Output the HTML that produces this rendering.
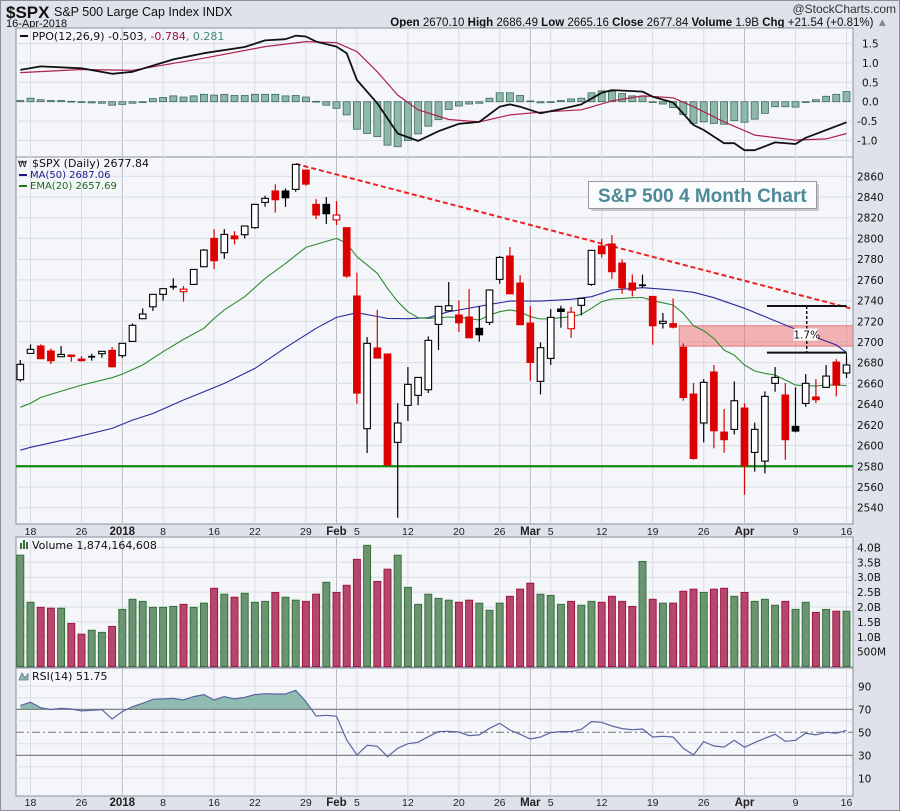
<!DOCTYPE html>
<html><head><meta charset="utf-8">
<style>
html,body{margin:0;padding:0;background:#dfe2ea;}
svg{display:block;font-family:"DejaVu Sans","Liberation Sans",sans-serif;}
.ax{font-size:10.5px;fill:#111;}
.lbl{font-size:11px;fill:#111;}
</style></head>
<body>
<svg id="c" width="900" height="811" viewBox="0 0 900 811" xmlns="http://www.w3.org/2000/svg">
<defs>
<clipPath id="cpPrice"><rect x="16" y="157" width="837" height="367"/></clipPath>
<clipPath id="cpPPO"><rect x="16" y="28" width="837" height="129"/></clipPath>
<clipPath id="cpRSI"><rect x="16" y="668" width="837" height="128"/></clipPath>
<clipPath id="cpAbove70"><rect x="16" y="668" width="837" height="41.3"/></clipPath>
</defs>
<rect x="0" y="0" width="900" height="811" fill="#dfe2ea"/>
<rect x="0.5" y="0.5" width="899" height="810" fill="none" stroke="#8a8f9c"/>
<text x="6" y="18" font-family="Liberation Sans,sans-serif" font-size="17" font-weight="bold" fill="#111">$SPX</text>
<text x="54" y="16" font-family="Liberation Sans,sans-serif" font-size="12.5" fill="#111">S&amp;P 500 Large Cap Index  INDX</text>
<text x="6" y="27" font-family="Liberation Sans,sans-serif" font-size="11" fill="#111">16-Apr-2018</text>
<text x="896" y="13" text-anchor="end" font-family="Liberation Sans,sans-serif" font-size="12" fill="#333">@StockCharts.com</text>
<text x="888" y="26" text-anchor="end" font-family="Liberation Sans,sans-serif" font-size="11.5" fill="#111"><tspan font-weight="bold">Open</tspan> 2670.10 <tspan font-weight="bold">High</tspan> 2686.49 <tspan font-weight="bold">Low</tspan> 2665.16 <tspan font-weight="bold">Close</tspan> 2677.84 <tspan font-weight="bold">Volume</tspan> 1.9B <tspan font-weight="bold">Chg</tspan> +21.54 (+0.81%) <tspan fill="#888">▲</tspan></text>

<rect x="16" y="28" width="837" height="129" fill="#f4f6fa" stroke="#8a8f9c"/>
<rect x="16" y="157" width="837" height="367" fill="#f4f6fa" stroke="#8a8f9c"/>
<rect x="16" y="537" width="837" height="130" fill="#f4f6fa" stroke="#8a8f9c"/>
<rect x="16" y="668" width="837" height="128" fill="#f4f6fa" stroke="#8a8f9c"/>
<g id="grid"></g>
<g id="ppo" clip-path="url(#cpPPO)"></g>
<g id="price" clip-path="url(#cpPrice)"></g>
<g id="vol"></g>
<g id="rsi" clip-path="url(#cpRSI)"></g>
<g id="axes"></g>

<text x="32" y="40" class="lbl"><tspan fill="#111">PPO(12,26,9) -0.503</tspan><tspan fill="#a0103c">, -0.784</tspan><tspan fill="#3d8a78">, 0.281</tspan></text>
<rect x="20" y="35" width="8" height="2" fill="#111"/>

<text x="32" y="167" class="lbl">$SPX (Daily) 2677.84</text>
<text x="18" y="167" font-size="9" fill="#111">₩</text>
<rect x="19" y="174" width="8" height="2" fill="#1a1a8c"/>
<text x="30" y="178" font-size="10" fill="#1a1a8c">MA(50) 2687.06</text>
<rect x="19" y="185" width="8" height="2" fill="#1a7a1a"/>
<text x="30" y="189" font-size="10" fill="#1a6a1a">EMA(20) 2657.69</text>

<g>
<rect x="591" y="184" width="228" height="27" fill="#aaa" opacity="0.6"/>
<rect x="588.5" y="181.5" width="228" height="27" fill="#fafbfd" stroke="#9a9a9a"/>
<text x="598" y="202" font-family="Liberation Sans,sans-serif" font-size="19" font-weight="bold" fill="#4d8a99">S&amp;P 500 4 Month Chart</text>
</g>

<text x="32" y="549" class="lbl">Volume 1,874,164,608</text>
<g><rect x="20" y="543" width="2" height="6" fill="#3a6b3a"/><rect x="23" y="540" width="2" height="9" fill="#3a6b3a"/><rect x="26" y="542" width="2" height="7" fill="#3a6b3a"/></g>
<text x="32" y="680" class="lbl">RSI(14) 51.75</text>
<path d="M19 680 L22 673 L25 678 L28 674 L28 680 Z" fill="#8fbcb0" stroke="#55708a" stroke-width="0.8"/>
</svg>
<script>
// ===== data =====
const opens=[2663.6,2689,2696.1,2691.3,2685.8,2687.4,2683.5,2685.8,2688.7,2691.9,
2686.8,2700.6,2722.5,2734,2746,2753.4,2748.6,2755.6,2772.7,2800,
2786.2,2802.4,2803.6,2810.4,2834.8,2845.8,2845.8,2847.4,2866,2832.9,
2832.9,2817.9,2810.4,2744.4,2616.3,2694.2,2688.4,2603.1,2638.8,2648.5,
2653.9,2717,2730.2,2726,2724.1,2713.2,2719,2760.5,2783,2756.9,
2718.3,2662,2684.2,2731.8,2712.8,2735.4,2755.6,2792.7,2794.6,2776.2,
2756.9,2754.8,2744,2718,2717.7,2694.8,2649.7,2621.8,2671,2613,
2615.6,2636.2,2593.4,2585,2660.1,2648.8,2618.5,2640.7,2646.9,2656.2,
2680.6,2670.1];
const highs=[2682.6,2697.7,2697.7,2693.8,2696,2687.4,2686.4,2688.7,2691,2695.1,
2698.7,2718,2732.5,2746,2751.5,2761.4,2754,2770.1,2789.8,2809,
2809,2807,2812,2832.9,2841.3,2852.2,2848.3,2871.5,2866,2838,
2840,2836,2810.4,2766.9,2704.8,2731.2,2688.4,2641,2675.8,2665.8,
2705.4,2734.4,2757.9,2740.2,2751.1,2734.7,2750.8,2783,2791.7,2764.6,
2734.7,2699.6,2731.8,2735,2734,2742.1,2788.5,2799.7,2803.3,2779.8,
2765.3,2765,2744,2728,2742.1,2698.7,2660.4,2664.2,2677.8,2635.3,
2662,2640.7,2622.1,2652.3,2675.8,2660.4,2656.2,2669,2664.2,2677.8,
2683.5,2686.5];
const lows=[2661.7,2689,2683.9,2678.7,2685.8,2681,2681,2682,2684.8,2676.1,
2684.8,2700.6,2722.5,2730,2740,2750.5,2739,2755.6,2772.7,2770.4,
2780.4,2794.3,2800,2809.4,2830.6,2825,2830.6,2845.1,2850.9,2818.7,
2814,2813,2762,2640.4,2592.8,2684.5,2581.2,2530.3,2623.7,2639,
2650.7,2692.2,2730.2,2709.6,2704.1,2700.3,2716.4,2756.3,2746.6,2716.7,
2662.6,2649.4,2677.8,2713.8,2704.1,2725.7,2754.3,2781.4,2761.1,2746.6,
2744,2752.4,2697.4,2713,2713.2,2643.3,2586.3,2603.1,2597.3,2593.1,
2610.8,2552.6,2574.8,2573.2,2652,2586.3,2612.7,2637.5,2641,2656.2,
2647.5,2665.2];
const closes=[2678.4,2692.9,2683.9,2681.9,2688,2686.1,2682,2685.8,2691,2676.1,
2698.7,2716.1,2727,2746,2751.5,2753.4,2751,2770.1,2788.8,2778.5,
2803.9,2799.7,2812,2832.9,2838.7,2837.4,2839.3,2871.5,2852.5,2822.6,
2823.9,2822.6,2763.7,2650.7,2698.7,2684.5,2581.2,2621.8,2659.1,2665.8,
2701.6,2734.4,2735,2718.6,2704.1,2707,2750.2,2781.7,2746.6,2716.7,
2680.3,2694.5,2723.8,2729.5,2728.8,2742.1,2788.5,2785.3,2767.9,2752.4,
2750.2,2754.0,2715.7,2720,2714.4,2646.5,2587.6,2661,2614.3,2605.7,
2643.3,2580.6,2615.6,2647.5,2665.8,2605.7,2614,2660.1,2644.3,2667.1,
2658.4,2677.8];
const volumesB=[3.74,2.16,1.99,1.96,1.96,1.45,1.09,1.22,1.15,1.35,
1.92,2.26,2.19,1.99,1.99,2.02,2.09,1.99,2.13,2.63,
2.43,2.33,2.46,2.16,2.19,2.49,2.33,2.23,2.19,2.43,
2.83,2.49,2.73,3.6,4.07,2.86,3.27,3.74,2.66,2.09,
2.43,2.29,2.23,2.16,2.23,2.13,1.89,2.13,2.36,2.6,
2.8,2.43,2.39,2.09,2.19,2.06,2.19,2.16,2.36,2.19,
2.02,3.53,2.26,2.13,2.13,2.53,2.6,2.49,2.6,2.63,
2.36,2.49,2.19,2.26,2.06,2.19,1.92,2.16,1.82,1.92,
1.86,1.86];
const rsiValues=[73.2,76.1,71.4,69.7,70.9,70.3,68.6,69.1,69.7,61.6,
68,72.3,75.2,78.7,79,79.6,78.1,81,82.8,78.1,
81,79,80.4,82.8,83.6,83.3,83.3,86.5,76.7,64.2,
64.8,63.9,43.3,30.3,38.7,37.8,28.8,36.1,40.1,41.3,
46.2,50.6,50.9,50.3,47.1,47.7,53.5,57.8,52,48.3,
44.2,45.9,49.7,50.6,50.6,52.6,59.3,58.7,55.5,53.2,
52.3,52.9,45.9,46.5,45.9,36.1,30.3,41.9,38.1,37.2,
43,37,41,44.8,48.3,42.2,43,49.1,47.7,50,
49.1,51.7];
const ppoHist=[.03,.09,.05,.03,.03,.01,-.01,-.03,-.04,-.09,
-.07,-.04,0,.08,.11,.15,.12,.15,.19,.17,
.19,.16,.16,.19,.19,.19,.15,.16,.12,.01,
-.09,-.17,-.34,-.71,-.82,-.9,-1.12,-1.16,-1.0,-.83,
-.63,-.46,-.2,-.11,-.06,-.04,.09,.23,.23,.16,
.02,-.03,-.01,.03,.07,.09,.23,.28,.26,.21,
.15,.14,-.02,-.06,-.15,-.33,-.56,-.52,-.56,-.58,
-.49,-.53,-.45,-.3,-.13,-.13,-.14,-.02,.05,.14,
.19,.26];
const ppoDays=[0,2,6,9,11,15,18,22,24,26,27,28,29,31,32,33,35,37,39,41,43,45,47,48,49,51,53,55,57,58,61,62,64,66,67,69,70,71,72,74,76,77,81];
const ppoLine=[.82,.91,.86,.72,.77,1.09,1.25,1.41,1.58,1.61,1.70,1.68,1.55,1.42,1.25,.56,-.04,-.82,-1.01,-.76,-.57,-.52,-.13,-.07,-.13,-.3,-.19,-.07,.23,.3,.26,.13,-.02,-.6,-.73,-1.07,-1.07,-1.25,-1.25,-1.05,-1.09,-.93,-.53];
const sigDays=[0,6,11,18,24,28,31,33,35,37,39,42,45,48,51,55,58,61,64,66,69,72,76,79,81];
const sigLine=[.75,.83,.81,1.12,1.42,1.55,1.52,1.29,.77,.17,-.21,-.46,-.52,-.34,-.27,-.21,.02,.15,.1,-.13,-.52,-.86,-.99,-.96,-.82];
const emaDays=[0,1,2,6,9,10,12,14,16,18,19,20,22,24,26,28,31,32,33,35,36,37,38,39,40,41,42,43,44,45,46,47,48,49,50,51,52,53,54,55,56,57,58,59,60,61,62,63,64,65,66,67,68,69,70,71,72,73,74,75,76,77,78,79,80,81];
const emaValues=[2637,2640.7,2646.5,2658.4,2665.5,2669,2677.8,2690.6,2702.5,2713.2,2722.8,2731,2743.7,2761.4,2775.9,2791.4,2800,2795.2,2782.4,2766.3,2751.8,2739,2729.3,2723.5,2722.8,2723.5,2724.1,2723.8,2722.8,2721.2,2726,2729.3,2731,2729.3,2724.4,2722.2,2722.5,2723.5,2724.4,2726.7,2732.5,2739,2741.5,2742.1,2742.8,2743,2739.9,2737.9,2735.7,2727.6,2715.7,2710.9,2703.5,2692.2,2687.4,2677.8,2672,2669.7,2668.1,2663.3,2658.4,2657.8,2657.5,2658.4,2658.4,2658];
const maDays=[0,1,5,9,11,13,16,18,20,23,26,29,31,33,36,38,40,42,43,46,48,51,54,56,58,61,63,64,66,68,71,75,77,80,81];
const maValues=[2595.5,2598.3,2607,2616.6,2624.6,2631,2644,2652,2660,2674.5,2694.5,2713.2,2723.8,2728.3,2722.8,2722.5,2723.5,2729.3,2730.9,2736.3,2739.5,2739.5,2741.2,2743.7,2750.2,2752.4,2751,2750.2,2748,2742.8,2732.5,2716.4,2708.3,2697.1,2690];
const trendDays=[27,81.6];
const trendPrices=[2872,2732];
const supportLevel=2580;
const resistZone=[2696,2715.7];
const measureLevels=[2734.8,2689.7];
const measureDays=[73.2,81];
const tickDays=[1,6,10,14,19,23,28,31,33,38,43,47,50,52,57,62,67,71,76,81];
const tickLabels=["18","26","2018","8","16","22","29","Feb","5","12","20","26","Mar","5","12","19","26","Apr","9","16"];
const tickMonth=[0,0,1,0,0,0,0,1,0,0,0,0,1,0,0,0,0,1,0,0];
const priceTicks=[2540,2560,2580,2600,2620,2640,2660,2680,2700,2720,2740,2760,2780,2800,2820,2840,2860];
const ppoTicks=[1.5,1.0,0.5,0.0,-0.5,-1.0];
const ppoTickLabels=["1.5","1.0","0.5","0.0","-0.5","-1.0"];
const volTicks=[4.0,3.5,3.0,2.5,2.0,1.5,1.0,0.5];
const volTickLabels=["4.0B","3.5B","3.0B","2.5B","2.0B","1.5B","1.0B","500M"];
const rsiTicks=[90,70,50,30,10];

// ===== scales =====
const NS="http://www.w3.org/2000/svg";
const X=i=>20.3+i*10.2;
const YP=p=>507.7-(p-2540)*1.0356;
const YO=v=>101.7-v*38.8;
const YV=b=>666.6-b*29.8;
const YR=r=>732.3-(r-50)*1.15;
function mk(tag,attrs,parent){const e=document.createElementNS(NS,tag);for(const k in attrs)e.setAttribute(k,attrs[k]);parent.appendChild(e);return e;}
const G=id=>document.getElementById(id);
const grid=G('grid'),axes=G('axes');

tickDays.forEach((d,k)=>{
  const x=X(d).toFixed(1);
  [[28,157],[157,524],[537,667],[668,796]].forEach(([a,b])=>{
    const l=mk('line',{x1:x,x2:x,y1:a,y2:b,stroke:tickMonth[k]?'#b9bcc6':'#d9dce4','stroke-width':1},grid);
    
    
  });
  [535,806].forEach(y=>{
    const t=mk('text',{x:x,y:y,'text-anchor':'middle','font-size':tickMonth[k]?11.5:10.5,'font-weight':tickMonth[k]?'bold':'normal','font-family':'Liberation Sans,sans-serif',fill:'#222'},axes);
    t.textContent=tickLabels[k];
    
    
  });
});
priceTicks.forEach(p=>{
  const y=YP(p).toFixed(1);
  const l=mk('line',{x1:16,x2:853,y1:y,y2:y,stroke:'#d9dce4'},grid);
  
  
  const t=mk('text',{x:857,y:+y+4,'class':'ax'},axes);
  t.textContent=p;
  
  
});
ppoTicks.forEach((v,k)=>{
  const y=YO(v).toFixed(1);
  const l=mk('line',{x1:16,x2:853,y1:y,y2:y,stroke:'#d9dce4'},grid);
  
  
  const t=mk('text',{x:v<0?857:862,y:+y+4,'class':'ax'},axes);
  t.textContent=ppoTickLabels[k];
  
  
});
volTicks.forEach((v,k)=>{
  const y=YV(v).toFixed(1);
  const l=mk('line',{x1:16,x2:853,y1:y,y2:y,stroke:'#d9dce4'},grid);
  
  
  const t=mk('text',{x:857,y:+y+4,'class':'ax'},axes);
  t.textContent=volTickLabels[k];
  
  
});
[90,80,60,40,20,10].forEach(r=>{
  const y=YR(r).toFixed(1);
  const l=mk('line',{x1:16,x2:853,y1:y,y2:y,stroke:'#dde0e7'},grid);
  
  
});
rsiTicks.forEach(r=>{
  const t=mk('text',{x:858,y:YR(r)+4,'class':'ax'},axes);
  t.textContent=r;
  
  
});

// ===== PPO =====
const ppo=G('ppo');
ppoHist.forEach((h,i)=>{
  const y0=YO(0),y1=YO(h);
  const r=mk('rect',{x:X(i)-3.5,y:Math.min(y0,y1),width:7,height:Math.max(0.8,Math.abs(y1-y0)),fill:'#8fb8ad',stroke:'#3d6b5b','stroke-width':0.8},ppo);
  
  
});
function drawLine(days,vals,ys,color,w,parent,name){
  const d=days.map((dd,k)=>(k?'L':'M')+X(dd).toFixed(1)+' '+ys(vals[k]).toFixed(1)).join(' ');
  const p=mk('path',{d:d,fill:'none',stroke:color,'stroke-width':w,'stroke-linejoin':'round'},parent);
  
  
  return p;
}
drawLine(sigDays,sigLine,YO,'#b0204c',1.2,ppo,'ppo-signal-line');
drawLine(ppoDays,ppoLine,YO,'#111',1.8,ppo,'ppo-line');

// ===== Price =====
const pr=G('price');
const sup=mk('line',{x1:16,x2:853,y1:YP(supportLevel),y2:YP(supportLevel),stroke:'#138a13','stroke-width':2.2},pr);


const zone=mk('rect',{x:X(64.6),y:YP(resistZone[1]),width:855-X(64.6),height:YP(resistZone[0])-YP(resistZone[1]),fill:'rgba(240,110,110,0.5)',stroke:'rgba(220,60,60,0.6)'},pr);


drawLine(maDays,maValues,YP,'#2a2a9a',1.1,pr,'ma50-line');
drawLine(emaDays,emaValues,YP,'#2f8a2f',1.1,pr,'ema20-line');
const tl=mk('line',{x1:X(trendDays[0]),y1:YP(trendPrices[0]),x2:X(trendDays[1]),y2:YP(trendPrices[1]),stroke:'#ee2222','stroke-width':2,'stroke-dasharray':'5,3'},pr);


opens.forEach((o,i)=>{
  const c=closes[i],prev=i?closes[i-1]:o;
  const down=c<prev, filled=c<o;
  const col=down?'#dd0000':'#000';
  const g=mk('g',{},pr);
  
  
  const x=X(i);
  mk('line',{x1:x,x2:x,y1:YP(highs[i]),y2:YP(lows[i]),stroke:col,'stroke-width':1.2},g);
  const top=YP(Math.max(o,c)),bot=YP(Math.min(o,c));
  if(bot-top<1.2){mk('line',{x1:x-3.5,x2:x+3.5,y1:top,y2:top,stroke:col,'stroke-width':1.8},g);}
  else mk('rect',{x:x-3.3,y:top,width:6.6,height:bot-top,fill:filled?col:'#fff',stroke:col,'stroke-width':1.1},g);
});
const mg=mk('g',{},pr);


measureLevels.forEach(v=>mk('line',{x1:X(measureDays[0]),x2:X(measureDays[1]),y1:YP(v),y2:YP(v),stroke:'#111','stroke-width':2},mg));
const mx=(X(measureDays[0])+X(measureDays[1]))/2;
mk('line',{x1:mx,x2:mx,y1:YP(measureLevels[0]),y2:YP(measureLevels[1]),stroke:'#111','stroke-width':1.5,'stroke-dasharray':'3,2'},mg);
mk('line',{x1:X(measureDays[1]),x2:X(measureDays[1]),y1:YP(measureLevels[1]),y2:YP(highs[81]),stroke:'#111','stroke-width':1},mg);
mk('rect',{x:mx-13,y:YP(2712)-1,width:24,height:12,fill:'#fff'},mg);
const pct=mk('text',{x:mx,y:YP(2712)+9,'text-anchor':'middle','font-size':10.5,fill:'#111'},mg);
pct.textContent=(100*(measureLevels[0]-measureLevels[1])/measureLevels[1]).toFixed(1)+'%';

// ===== Volume =====
const vg=G('vol');
volumesB.forEach((v,i)=>{
  const down=(i>0)&&(closes[i]<closes[i-1]);
  const r=mk('rect',{x:X(i)-3.5,y:YV(v),width:7,height:YV(0)-YV(v),fill:down?'#b5466c':'#6b9470',stroke:down?'#a0103c':'#2f6b35','stroke-width':0.9},vg);
  
  
});

// ===== RSI =====
const rg=G('rsi');
const rpts=rsiValues.map((r,i)=>X(i).toFixed(1)+' '+YR(r).toFixed(1));
const rfill=mk('path',{d:'M'+X(0)+' '+YR(70)+' L'+rpts.join(' L')+' L'+X(81)+' '+YR(70)+' Z',fill:'#8fbcb0','clip-path':'url(#cpAbove70)'},rg);


[70,30].forEach(v=>{
  const l=mk('line',{x1:16,x2:853,y1:YR(v),y2:YR(v),stroke:'#777','stroke-width':1.2},rg);
  
  
});
const mid=mk('line',{x1:16,x2:853,y1:YR(50),y2:YR(50),stroke:'#777','stroke-width':1,'stroke-dasharray':'8,3,2,3'},rg);


const rl=mk('path',{d:'M'+rpts.join(' L'),fill:'none',stroke:'#5a64a0','stroke-width':1.2},rg);


</script>
</body></html>
